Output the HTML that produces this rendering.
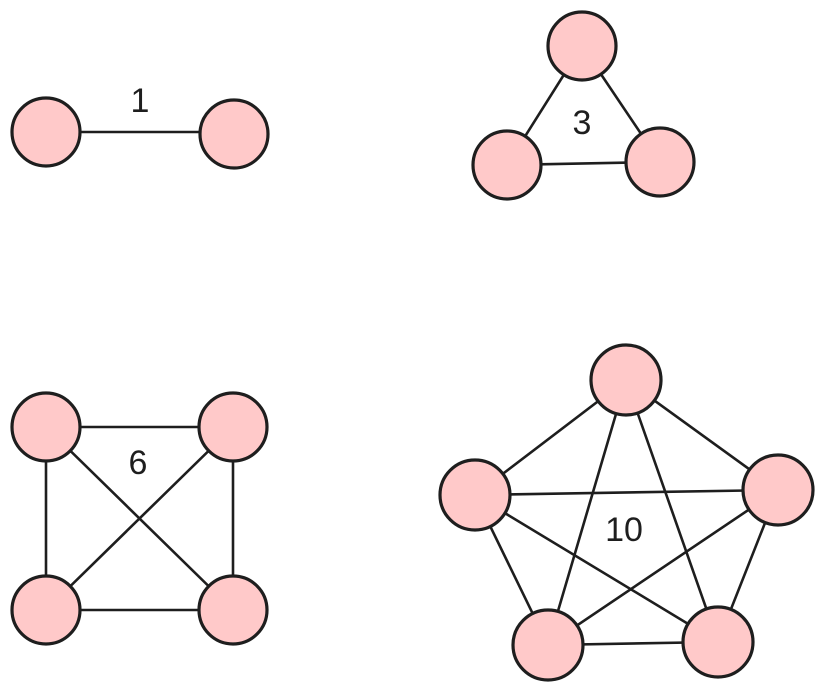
<!DOCTYPE html>
<html><head><style>body{margin:0;background:#fff}svg{display:block}</style></head><body>
<svg width="825" height="695" viewBox="0 0 825 695" xmlns="http://www.w3.org/2000/svg">
<g stroke="#1e1e1e" stroke-width="2.6" stroke-linecap="round">
<line x1="46" y1="132" x2="234" y2="132"/>
<line x1="582" y1="46" x2="507" y2="165"/><line x1="582" y1="46" x2="660" y2="162"/><line x1="507" y1="165" x2="660" y2="162"/>
<line x1="46" y1="427" x2="233" y2="427"/><line x1="46" y1="610" x2="233" y2="610"/><line x1="46" y1="427" x2="46" y2="610"/><line x1="233" y1="427" x2="233" y2="610"/><line x1="46" y1="427" x2="233" y2="610"/><line x1="233" y1="427" x2="46" y2="610"/>
<line x1="626" y1="380" x2="475" y2="495"/><line x1="626" y1="380" x2="778" y2="490"/><line x1="626" y1="380" x2="548" y2="645"/><line x1="626" y1="380" x2="718" y2="642"/>
<line x1="475" y1="495" x2="778" y2="490"/><line x1="475" y1="495" x2="548" y2="645"/><line x1="475" y1="495" x2="718" y2="642"/>
<line x1="778" y1="490" x2="548" y2="645"/><line x1="778" y1="490" x2="718" y2="642"/><line x1="548" y1="645" x2="718" y2="642"/>
</g>
<g fill="#ffc9c9" stroke="#1e1e1e" stroke-width="3.2">
<circle cx="46" cy="132" r="34"/><circle cx="234" cy="134" r="34"/>
<circle cx="582" cy="46" r="34"/><circle cx="507" cy="165" r="34"/><circle cx="660" cy="162" r="34"/>
<circle cx="46" cy="427" r="34"/><circle cx="233" cy="427" r="34"/><circle cx="46" cy="610" r="34"/><circle cx="233" cy="610" r="34"/>
<circle cx="626" cy="380" r="35"/><circle cx="475" cy="495" r="35"/><circle cx="778" cy="490" r="35"/><circle cx="548" cy="645" r="35"/><circle cx="718" cy="642" r="35"/>
</g>
<g font-family="Liberation Sans, sans-serif" font-size="34" fill="#1e1e1e" text-anchor="middle">
<text x="140" y="112">1</text><text x="582" y="134">3</text><text x="138" y="474">6</text><text x="624" y="541">10</text>
</g>
</svg>
</body></html>
